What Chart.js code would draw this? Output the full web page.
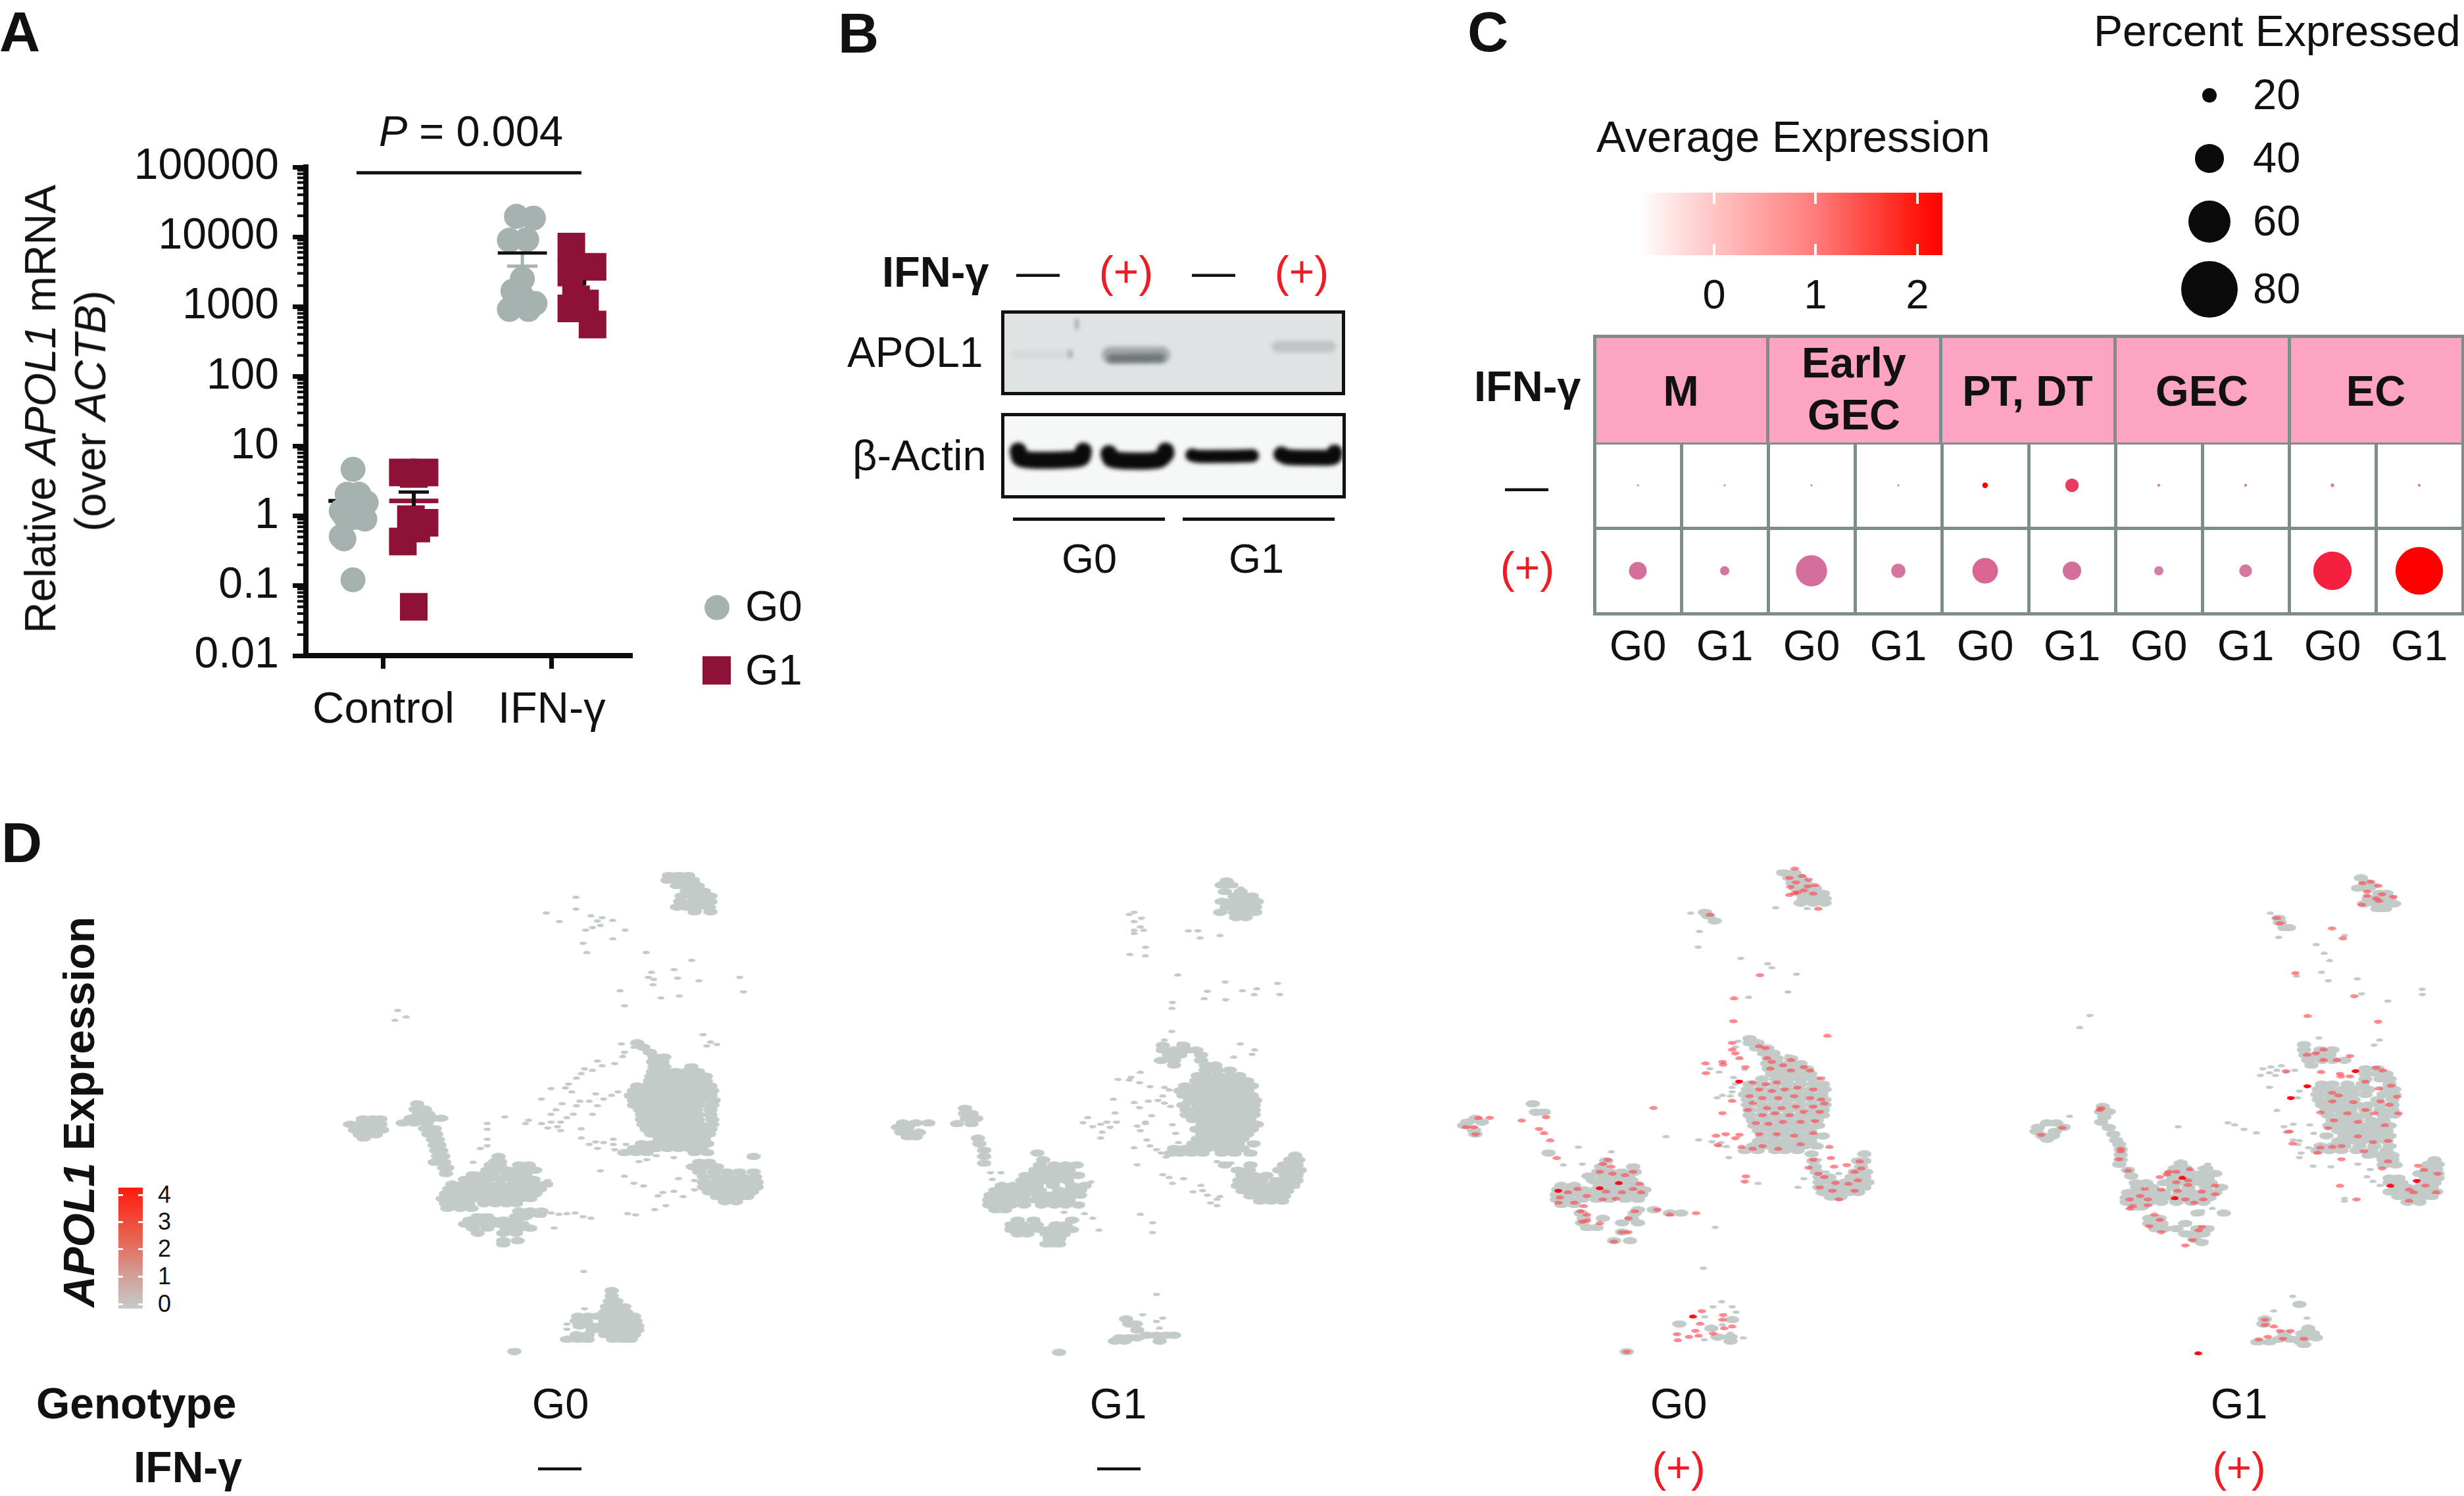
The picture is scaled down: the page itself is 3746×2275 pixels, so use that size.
<!DOCTYPE html>
<html>
<head>
<meta charset="utf-8">
<style>
html, body { margin: 0; padding: 0; background: #fff; }
#page { position: relative; width: 3746px; height: 2275px; overflow: hidden; background: #fff; font-family: "Liberation Sans", Arial, sans-serif; color: #111; }
#page canvas, .box { position: absolute; }
.t { position: absolute; white-space: nowrap; line-height: 1; }
</style>
<script src="https://cdn.jsdelivr.net/npm/chart.js@4"></script>
</head>
<body>
<div id="page"></div>
<script>
// Panel A
const qpcrTicks = [0.01, 0.1, 1, 10, 100, 1000, 10000, 100000];
const minorSteps = [2, 3, 4, 5, 6, 7, 8, 9];
const groupTicks = [1, 2];
const groupNames = ['Control', 'IFN-γ'];
const g0Ctl = [[.819,4.67],[.784,2.05],[.854,2.05],[.897,1.56],[.749,1.18],[.819,1.32],[.889,.9],[.819,.95],[.77,1.0],[.749,.51],[.765,.47],[.819,.122]];
const g1Ctl = [[1.115,4.2],[1.244,4.2],[1.18,4.0],[1.163,.9],[1.244,.8],[1.195,.66],[1.115,.43],[1.18,.05]];
const g0Ifn = [[1.79,19600],[1.891,18550],[1.748,8930],[1.851,9130],[1.825,2497],[1.769,1676],[1.9,1112],[1.748,911],[1.862,911],[1.821,1419]];
const g1Ifn = [[2.116,7230],[2.242,3722],[2.116,3083],[2.197,1112],[2.144,1270],[2.116,942],[2.242,553]];
const meanX = [.819, 1.18, 1.825, 2.195];
const meanY = [1.65, 1.65, 5860, 2210];
const semHi = [2.1, 2.2, 5860, 2400];
const semLo = [1.3, 1.39, 3805, 2030];
const pBar = [[.84,82800],[2.176,82800]];

// Panel C
const clusters = ['M', 'Early<br>GEC', 'PT, DT', 'GEC', 'EC'];
const columnKeys = ['M G0','M G1','Early G0','Early G1','PT G0','PT G1','GEC G0','GEC G1','EC G0','EC G1'];
const genotypes = ['G0','G1','G0','G1','G0','G1','G0','G1','G0','G1'];
const treatments = ['—', '(+)'];
const pctCtl = [3,3,3,3,8,19,4,4,5,4];
const pctIfn = [25,13,44,20,36,26,13,18,54,67];
const exprCtl = [.3,.3,.3,.3,2.1,1.4,.3,.3,.3,.3];
const exprIfn = [.6,.45,.6,.45,.85,.6,.3,.4,1.7,2.1];
const legendPct = [20, 40, 60, 80];
const colorTicks = ['0', '1', '2'];

// Panel B band traces, read along the middle of each band
const actinLanes = [
  [[26,58],[30,69],[60,72],[100,71],[122,68],[125,58]],
  [[164,62],[168,70],[200,73],[240,71],[250,62],[250,58]],
  [[290,64],[300,66],[340,66],[382,65]],
  [[426,63],[435,67],[480,68],[505,67],[507,60]]
];
const actinWidths = [26, 26, 20, 24];
const apolBands = [
  [[20,67],[105,67]], [[166,68],[244,68]], [[168,73],[242,72]], [[420,55],[500,55]],
  [[115,14],[115,27]], [[105,62],[105,70]]
];
const apolWidths = [12, 26, 13, 18, 4, 5];
const apolShades = ['#d6dada', '#a4aaaa', '#6f7777', '#bfc4c4', '#8a9090', '#9aa0a0'];

// Panel D, UMAP rows: [y, x, x, ...] in crop units
const ctlG0Core = [
[98,1170,1200,1230],[112,1165,1195,1225,1245],[128,1195,1225,1260],[144,1225,1255,1280],[158,1210,1240,1270,1300],[174,1205,1245,1275,1300],[190,1195,1225,1260,1295],[204,1250,1300],
[806,210,240,265],[822,170,195,225,265],[838,185,215,245,270],[852,200,230,250],[862,212],
[762,380],[778,375,405],[792,385,415],[804,360,395,430,455],[818,335,370,410],[834,405,435],[850,415,440],[866,430,445],[882,435,450],[898,440,455],[914,445,462],[932,435,465],[948,465,475],[965,470],
[915,635],[930,625,640],[940,610,640,700,730],[955,600,630,665,695,730,750],[968,555,585,615,660,690,720],[982,530,570,600,640,680,715,745],[996,490,525,560,600,640,680,715,750,785],[1010,480,515,550,590,625,660,695,730,765],[1024,470,505,540,575,610,645,680,715,750],[1038,460,495,530,565,600,635,670,705,735],[1052,470,505,540,590,625,660,690],[1066,475,515,550],
[1074,700,735,770],[1084,730,765],[1090,570,600,690,720],[1100,545,580,615,650,690],[1112,530,565,600,635,670,710],[1124,555,600,660,700,735],[1138,570,650,690],[1160,650,695],[1170,650],
[1305,990],[1320,990],[1336,985,1005],[1352,975,1005,1030],[1368,970,1000,1035],[1380,885,915,945,975,1005,1040,1060],[1394,880,910,970,1000,1030,1065],[1408,890,925,955,985,1015,1045,1070],[1420,930,960,990,1020,1050,1070],[1434,880,915,970,1000,1030,1060],[1447,850,885,915,995,1025,1050],[1482,685],
[585,1070],[598,1090],[612,1110],[626,1125,1155],[640,1120,1150],[654,1125,1155,1240],[668,1120,1155,1190,1225,1260],[682,1115,1150,1185,1220,1255,1285],[696,1110,1145,1180,1215,1250,1285],[710,1070,1105,1140,1175,1210,1245,1280,1300],[724,1060,1095,1130,1165,1200,1235,1270,1305],[738,1050,1085,1120,1155,1190,1225,1260,1300],[752,1060,1095,1130,1165,1200,1235,1270,1310],[766,1060,1090,1125,1160,1195,1230,1265,1305],[780,1080,1115,1150,1185,1220,1255,1300],[794,1085,1120,1155,1190,1225,1260,1300],[808,1085,1120,1155,1190,1225,1260,1305],[822,1090,1125,1160,1195,1230,1265,1305],[836,1100,1135,1170,1205,1240,1275,1300],[850,1115,1150,1185,1220,1255,1295],[864,1140,1175,1210,1245,1280],[878,1085,1120,1155,1190,1225,1260,1290],[892,1060,1095,1130,1165,1200,1235,1270],[904,1030,1065,1100,1250,1290],
[932,1265,1295],[945,1245,1280,1320],[960,1265,1310,1350,1390,1435],[975,1280,1320,1360,1400,1440],[990,1280,1315,1350,1385,1420,1445],[1004,1280,1315,1350,1385,1420,1445],[1018,1295,1330,1365,1400,1430],[1032,1320,1355,1390,1415],[1046,1345,1380],[915,1435]
];
const ctlG0Stray = [[878,162],[878,196],[785,207],[826,232],[925,216],[960,221],[945,231],[955,243],[993,229],[908,257],[930,250],[1032,257],[994,283],[900,295],[912,323],[1098,322],[1241,345],[1186,372],[1115,380],[1105,394],[1122,400],[1197,397],[1264,405],[1392,394],[1120,416],[1017,434],[1403,436],[1145,454],[1202,449],[1031,477],[319,491],[346,510],[310,520],[1277,561],[1300,583],[1320,589],[1288,594],[1021,588],[1060,598],[1030,612],[1025,625],[945,638],[1000,645],[960,652],[930,665],[905,660],[895,675],[880,688],[855,705],[800,718],[845,716],[865,728],[1010,727],[990,738],[770,748],[940,733],[965,748],[890,755],[920,755],[945,768],[835,762],[880,768],[815,780],[800,793],[870,792],[930,793],[655,800],[730,810],[850,803],[720,820],[770,820],[800,815],[830,815],[790,832],[820,828],[830,840],[600,819],[600,836],[895,835],[600,865],[895,862],[940,873],[920,880],[965,875],[995,865],[995,880],[1035,880],[945,892],[1000,895],[600,884],[578,892],[1075,930],[1100,925],[1130,913],[1185,918],[555,932],[955,957],[1030,973],[1200,980],[1060,993],[1090,1001],[1150,1020],[1185,1017],[1135,1030],[1215,1032],[1250,1012],[1160,1058],[1125,1070],[1040,1082],[1065,1085],[810,1123],[902,1250],[905,1358],[850,1403],[850,1417],[1250,985],[790,985],[770,995],[800,1080],[825,1084],[850,1082],[875,1080],[900,1090],[925,1095]];

const ctlG1Core = [
[114,1165],[126,1150,1180],[145,1160,1210],[158,1190,1220,1245],[174,1150,1180,1210,1240,1260],[190,1165,1195,1225,1255],[205,1145,1190,1225,1255],[220,1195,1225],
[818,150,190,230],[830,135,165],[845,145,165,200],[858,165,190],
[775,345],[790,345,365],[805,350,380],[820,320,365],[862,385],[878,390],[897,405],[915,405],[935,405],
[905,572],[925,590],[940,580,625,660,695],[955,565,600,635,670],[970,535,570,605,640,675,700],[985,525,560,595,630,665],[1000,460,495,530,570,620,680,720],[1014,440,475,510,545,580,640,675,705],[1028,425,460,495,530,575,610,645,680,705],[1042,420,455,490,525,565,600,635,670],[1056,420,450,490,530,585,625,660,700],[1070,440,470],
[1100,510,560,680],[1114,490,525,570,630,660],[1128,490,520,550,580,610,640,680],[1140,510,540,600,630,655],[1155,610,640],[1170,600,615,640],
[1388,850],[1402,860,880],[1420,885],[1435,915,945,975,1000],[1442,830,860,885],[1452,815,845,955],[1485,640],
[592,965,1030],[606,965,1000,1040,1070],[620,985,1020,1085],[636,960,1000,1085],[650,1000,1100,1130],[664,1100,1135,1175],[680,1075,1105,1140,1175,1205],[695,1070,1100,1130,1165,1200,1230],[710,1035,1075,1110,1145,1180,1215,1245],[724,1020,1050,1090,1125,1160,1195,1230],[738,1030,1070,1105,1140,1175,1210,1245],[752,1050,1085,1120,1155,1190,1225,1255],[766,1030,1075,1110,1145,1180,1215,1250],[780,1040,1080,1115,1150,1185,1220,1250],[794,1040,1075,1110,1145,1180,1215,1250],[808,1060,1095,1130,1165,1200,1235],[822,1090,1125,1160,1195,1230,1260],[836,1070,1105,1140,1175,1210,1245],[850,1090,1125,1160,1195,1230],[864,1075,1110,1145,1180,1215],[878,1060,1095,1130,1165,1200,1250],[892,1000,1035,1070,1105,1140,1175,1215],[906,990,1020,1055,1090,1150,1190,1240],
[912,1380],[925,1365,1390],[940,1160,1240,1345,1385],[955,1200,1235,1330,1365,1395],[970,1215,1250,1290,1350,1385],[985,1205,1240,1275,1320,1360,1385],[1000,1200,1235,1270,1305,1340,1375],[1015,1215,1250,1285,1320,1355],[1030,1240,1275,1310,1345],[1045,1270,1305,1340]
];
const ctlG1Stray = [[1210,135],[875,205],[860,212],[898,222],[875,232],[895,248],[875,258],[905,258],[875,267],[1045,260],[1075,259],[1082,280],[1145,273],[911,307],[862,328],[910,332],[1012,388],[1161,408],[1325,412],[1105,435],[1215,434],[1260,428],[1252,445],[1332,444],[1095,457],[1162,459],[995,467],[994,485],[993,552],[970,577],[1020,586],[1208,588],[1253,606],[1245,618],[1188,627],[895,671],[825,691],[865,685],[860,693],[892,701],[925,712],[970,715],[985,722],[965,740],[810,749],[875,759],[950,752],[920,755],[970,760],[892,773],[990,770],[930,797],[730,803],[815,789],[910,815],[715,817],[790,815],[820,815],[745,828],[770,822],[800,830],[775,845],[770,862],[885,827],[910,820],[995,823],[895,840],[1005,848],[915,868],[1015,875],[925,885],[945,895],[875,890],[960,905],[975,917],[885,939],[1135,930],[1180,935],[700,965],[425,962],[458,962],[430,982],[965,968],[985,977],[1030,980],[995,994],[740,990],[1085,1000],[1090,1015],[1060,1018],[1105,1028],[1145,1032],[1135,1040],[1115,1050],[1135,1058],[720,1082],[655,1078],[895,1084],[745,1095],[933,1108],[765,1130],[933,1136],[945,1316],[902,1375],[945,1395],[955,1415],[965,1385]];

const ifnG0Core = [
[90,1095,1130],[105,1115,1150],[120,1125,1165],[135,1135,1175,1195],[150,1150,1190,1220],[165,1160,1195,1225],[178,1150,1190,1225],[205,850],[215,860],[230,880],
[805,130],[815,105,150],[825,95],[838,125],[850,130],[762,310],[786,320,345],[905,360],
[928,540],[945,525,625],[960,515,550,590,630],[972,485,530,570,610],[985,500,540,580,620],[1000,400,440,520,560,600,640],[1012,390,430,470,510,550,590,630,660],[1026,385,420,460,500,540,580,620,650],[1040,385,425,465,510,550,600,640],[1055,400,440],
[1070,640,690],[1080,460,630,740,775],[1095,470,530,620],[1108,465,590,640],[1122,480,510],[1135,590],[1160,565,615],
[572,990],[585,990,1015],[600,1010,1045],[615,1035,1065],[630,1050,1075,1120],[645,1045,1080,1115,1150],[660,1050,1090,1130,1170],[675,1060,1100,1140,1180],[690,1030,1075,1110,1150,1190],[705,990,1030,1070,1110,1150,1190,1220],[720,985,1025,1065,1105,1145,1185,1225],[735,975,1015,1055,1095,1135,1175,1215],[750,985,1030,1070,1110,1150,1190,1225],[765,985,1025,1065,1105,1145,1185,1225],[780,990,1030,1070,1110,1150,1190,1220],[795,990,1030,1070,1110,1150,1190,1220],[810,1000,1040,1080,1120,1160,1200],[825,1005,1045,1085,1125,1165,1205],[840,1020,1060,1100,1140,1180],[855,1030,1070,1110,1150,1190,1220],[870,1020,1060,1100,1140,1180],[885,1000,1040,1080,1120,1160,1200],[898,975,1015,1070,1100,1140],
[908,1185,1350],[928,1190,1330,1350],[945,1195,1340],[960,1200,1320,1355],[975,1210,1240,1310,1350],[990,1210,1250,1290,1330,1360],[1005,1210,1245,1280,1315,1350],[1020,1220,1260,1300,1330],[1033,1245,1275],
[1415,870],[1440,890,930],[1452,930],[1390,935],[1402,770],[1483,605]
];
const ifnG0Stray = [[805,208],[833,261],[829,306],[962,339],[1047,355],[1060,367],[1137,385],[1111,437],[987,453],[954,580],[945,597],[1110,622],[865,660],[895,670],[975,662],[940,686],[945,705],[935,715],[935,727],[888,745],[905,738],[930,740],[728,858],[830,867],[872,872],[900,875],[895,885],[918,887],[925,918],[453,888],[557,902],[406,940],[465,937],[1160,980],[1017,994],[1142,1005],[882,1121],[845,1240],[903,1338],[875,1352],[935,1352],[948,1368],[850,1382],[905,1405],[930,1430],[970,1443],[848,1448],[1072,192],[1170,195],[1205,925],[1230,960],[1270,965],[1175,885]];
const ifnG0Red = [[1132,78],[1155,100],[1115,105],[1175,110],[1135,118],[1118,131],[1172,130],[1195,127],[1130,150],[1160,142],[1115,155],[1190,151],[1205,195],[1140,148],[865,213],[1023,388],[941,456],[939,522],[1234,565],[935,585],[935,605],[945,615],[958,630],[852,645],[905,640],[907,648],[853,673],[977,655],[935,754],[905,789],[689,774],[885,855],[915,850],[945,862],[958,852],[890,882],[965,888],[1240,888],[1245,920],[978,973],[975,988],[275,811],[352,801],[175,803],[140,804],[125,830],[130,850],[100,830],[330,835],[345,848],[365,869],[385,920],
[1000,700],[1040,705],[1075,700],[1120,665],[1095,650],[1055,660],[1160,655],[1180,665],[1215,688],[1020,720],[1060,725],[1100,720],[1140,715],[1190,720],[990,740],[1030,745],[1080,745],[1130,740],[1180,745],[1215,750],[1000,760],[1045,775],[1090,775],[1135,770],[1190,770],[1225,762],[985,780],[1030,795],[1070,790],[1115,795],[1160,785],[1210,785],[1010,818],[1050,820],[1095,815],[1150,815],[1195,812],[1020,850],[1075,850],[1130,855],[1190,848],[1030,885],[1080,893],[1000,893],[1150,880],[1040,600],[1020,595],[1045,630],[1060,640],[1120,635],
[545,925],[530,937],[555,945],[520,960],[560,965],[600,970],[625,960],[420,1020],[450,1010],[480,1030],[540,1018],[590,1020],[625,1010],[645,995],[395,1035],[440,1050],[530,1040],[570,1038],[390,1050],[470,1060],[650,1020],[460,1075],[480,1085],[480,1102],[465,1105],[520,1110],[630,1075],[610,1095],[700,1070],[740,1085],[822,1080],[590,1135],[610,1135],[565,1163],
[1205,965],[1225,975],[1210,1005],[1250,1015],[1270,1040],[1320,960],[1340,950],[1330,985],[1300,995],[1260,992],[1295,940],[1255,945],[1175,948],[1190,925],[1320,1015],[1335,930],[907,1376],[905,1390],[840,1365],[762,1432],[800,1440],[830,1437],[765,1450],[875,1430],[910,1415],[935,1410],[605,1483],[820,1422],[835,1402]];
const ifnG0Peak = [[520,1008],[957,697],[812,1381],[580,993],[390,1015]];

const ifnG1Core = [
[105,1225],[118,1240],[128,1260],[135,1215,1250],[150,1285,1310],[165,1250,1285,1320],[180,1235,1275,1310,1335],[195,1280,1305],[222,950],[235,955],[250,970,985],
[818,180,210],[830,150,235],[842,145,205],[855,165,200],[865,180],
[770,365],[785,360,385],[800,370],[815,360],[831,385],[850,400],[868,410],[880,420],[895,425],[910,425],[925,425],[938,420],[955,450],[972,460],
[935,625],[950,605,640,710],[965,590,625,660,695,740],[980,600,640,680,715],[992,475,510,570,610,650,690,725],[1005,480,530,600,650,710,760],[1020,450,490,530,570,620,660,700,740],[1035,445,480,520,560,600,640,680,720],[1048,445,480,520,560,610,660,700],[1062,470,495],
[1080,680,768],[1095,520,555],[1110,520,560,640],[1125,540,570,610,680,715],[1140,640,670,700],[1155,670],[1165,695],
[590,1035],[605,1035,1090,1130],[620,1040,1080,1120],[635,1050,1095,1130,1170],[650,1060],[660,1240,1280],[675,1240,1280,1310],[690,1240,1290,1320],[705,1095,1130,1180,1230,1320],[720,1085,1125,1165,1205,1250,1310,1335],[735,1080,1120,1160,1195,1240,1300,1335],[750,1085,1125,1160,1200,1280,1330],[765,1095,1130,1170,1210,1250,1290,1330],[780,1110,1150,1190,1240,1290,1330],[795,1115,1160,1200,1240,1300,1335],[810,1130,1170,1210,1260,1300],[825,1120,1160,1200,1240,1280,1320],[840,1150,1190,1230,1270,1310],[855,1110,1170,1210,1250,1290,1320],[870,1150,1190,1230,1270,1310],[885,1090,1130,1170,1220,1270,1320],[898,1080,1120,1160,1210,1260,1310],[912,1250,1290,1330],[925,1300,1330],[940,1300,1340],
[925,1470],[938,1450,1480],[952,1445,1475],[965,1420,1450,1480],[978,1320,1350,1440,1480],[992,1320,1360,1430,1470],[1005,1340,1380,1420,1460],[1018,1320,1360,1400,1440,1475],[1032,1350,1390,1430,1460],[1048,1380,1420],
[1345,1020],[1388,905],[1402,900],[1415,1050],[1430,970,1030,1065],[1442,1040,1075],[1447,950,990,1015],[1455,880,920,1025],[1462,1035]
];
const ifnG1Stray = [[924,208],[951,278],[1076,299],[1102,325],[1121,346],[1094,380],[1010,391],[1116,404],[1213,399],[1429,429],[1430,444],[1227,442],[1314,463],[322,505],[289,541],[1287,577],[1268,591],[1085,571],[1170,273],[890,679],[898,660],[925,655],[945,665],[960,652],[920,672],[940,680],[975,670],[1005,665],[920,714],[1020,725],[1015,745],[945,782],[255,799],[616,829],[782,818],[805,824],[835,836],[877,847],[968,828],[1000,822],[975,845],[990,843],[1055,824],[1068,848],[1000,868],[1020,870],[1015,880],[1050,890],[1025,905],[1020,918],[1065,943],[1125,945],[1215,937],[1255,953],[1245,975],[1265,988],[1288,1000],[1170,1038],[1170,1045],[673,1081],[695,1073],[730,1067],[767,1085],[998,1322],[935,1365],[1045,1385],[690,950],[715,938],[760,1008]];
const ifnG1Red = [[1258,116],[1230,121],[1283,128],[1245,145],[1245,157],[1295,153],[1333,160],[1275,165],[1285,172],[1228,183],[945,222],[955,237],[1128,252],[1165,281],[1007,382],[1203,449],[1047,507],[1282,523],[1075,615],[1100,605],[1045,620],[1100,635],[1145,635],[1188,623],[1092,670],[975,667],[1155,675],[1158,683],[1188,682],[1275,657],[1298,665],[1325,710],[1285,718],[1240,698],[1345,741],[1130,730],[1150,738],[1130,755],[1090,787],[1200,757],[1240,780],[1270,790],[1290,755],[1320,765],[1350,790],[1305,825],[1135,810],[1115,833],[1180,790],[1215,815],[1215,857],[1265,873],[1315,870],[1160,885],[1090,890],[1080,905],[1130,888],[1235,900],[1160,923],[1315,930],[1295,950],[1415,942],[1435,955],[1480,965],[1385,1012],[1400,1020],[1440,1000],[1385,1045],[1475,1020],[1155,1001],[1210,1040],[997,878],[985,843],
[360,775],[355,780],[230,832],[160,852],[425,893],[425,900],[420,923],[450,957],[555,975],[585,960],[610,960],[655,953],[580,968],[650,985],[610,990],[650,998],[740,1000],[505,1010],[560,1012],[615,1015],[695,1018],[740,1025],[490,1030],[515,1040],[640,1040],[700,1040],[455,1040],[465,1060],[515,1057],[670,1050],[455,1067],[537,1085],[555,1100],[520,1118],[560,1135],[695,1120],[685,1130],[665,1158],[640,1174],[905,1390],[905,1405],[935,1410],[955,1423],[990,1423],[915,1440],[885,1447],[965,1445],[1035,1445]];
const ifnG1Peak = [[1207,667],[1046,711],[991,745],[630,978],[1411,986],[683,1488],[605,1037],[1323,1001]];

const exprTicks = ['4', '3', '2', '1', '0'];

const page = document.getElementById('page');
Chart.defaults.font.family = '"Liberation Sans", Arial, sans-serif';
Chart.defaults.color = '#111';
Chart.defaults.animation = false;
Chart.defaults.responsive = false;
Chart.defaults.layout.autoPadding = false;
Chart.defaults.plugins.legend.display = false;
Chart.defaults.plugins.tooltip.enabled = false;

function addCanvas(left, top, w, h) {
    const c = document.createElement('canvas');
    c.width = w; c.height = h;
    c.style.left = left + 'px';
    c.style.top = top + 'px';
    page.appendChild(c);
    return c;
}

// baseline positioned text, line-height 1 puts the baseline at .8465em
function text(html, x, base, size, opts) {
    opts = opts || {};
    const el = document.createElement('div');
    el.className = 't';
    el.innerHTML = html;
    el.style.fontSize = size + 'px';
    el.style.left = x + 'px';
    el.style.top = (base - size * 0.8465) + 'px';
    if (opts.bold) el.style.fontWeight = 'bold';
    if (opts.color) el.style.color = opts.color;
    if (opts.anchor === 'middle') el.style.transform = 'translateX(-50%)';
    if (opts.anchor === 'end') el.style.transform = 'translateX(-100%)';
    page.appendChild(el);
    return el;
}

function vtext(html, x, cy, size, bold) {
    const el = document.createElement('div');
    el.className = 't';
    el.innerHTML = html;
    el.style.fontSize = size + 'px';
    el.style.left = x + 'px';
    el.style.top = cy + 'px';
    el.style.transformOrigin = '0 0';
    el.style.transform = 'rotate(-90deg) translate(-50%, -0.8465em)';
    if (bold) el.style.fontWeight = 'bold';
    page.appendChild(el);
}

function box(left, top, w, h, css) {
    const el = document.createElement('div');
    el.className = 'box';
    el.style.cssText = 'left:' + left + 'px;top:' + top + 'px;width:' + w + 'px;height:' + h + 'px;' + (css || '');
    page.appendChild(el);
    return el;
}

function pts(list) { return list.map(p => ({ x: p[0], y: p[1] })); }
function rows(list) { return list.flatMap(r => r.slice(1).map(x => ({ x: x, y: r[0] }))); }

/* ---------- A ---------- */
const minorTickPlugin = {
    id: 'minorTicks',
    afterDraw(chart) {
        const s = chart.scales.y, ctx = chart.ctx;
        ctx.save();
        ctx.strokeStyle = '#0b0b0b';
        ctx.lineWidth = 4;
        qpcrTicks.slice(0, -1).forEach(dec => {
            minorSteps.forEach(m => {
                const y = s.getPixelForValue(dec * m);
                ctx.beginPath();
                ctx.moveTo(s.right - 13, y);
                ctx.lineTo(s.right, y);
                ctx.stroke();
            });
        });
        ctx.restore();
    }
};

const G0_GREY = '#a6b2b0', G1_RED = '#8e1238';
const HALF = 0.146;
function hline(x, y, half) { return [{ x: x - half, y: y }, { x: x + half, y: y }]; }
function lineSet(data, color, width, order) {
    return { type: 'scatter', data: data, showLine: true, borderColor: color, borderWidth: width, pointRadius: 0, order: order, borderCapStyle: 'butt' };
}

const aSets = [
    lineSet(pts(pBar), '#111', 5, 0),
    lineSet(hline(meanX[0], meanY[0], HALF), '#111', 6, 9),
    { type: 'scatter', data: pts(g0Ctl), pointStyle: 'circle', pointRadius: 19, backgroundColor: G0_GREY, borderWidth: 0, order: 8 },
    { type: 'scatter', data: pts(g0Ifn), pointStyle: 'circle', pointRadius: 19, backgroundColor: G0_GREY, borderWidth: 0, order: 8 },
    { type: 'scatter', data: pts(g1Ctl), pointStyle: 'rect', pointRadius: 29.7, backgroundColor: G1_RED, borderWidth: 0, order: 7 },
    { type: 'scatter', data: pts(g1Ifn), pointStyle: 'rect', pointRadius: 29.7, backgroundColor: G1_RED, borderWidth: 0, order: 7 },
    lineSet(hline(meanX[1], meanY[1], HALF), G1_RED, 7, 6),
    lineSet([{ x: meanX[1], y: semLo[1] }, { x: meanX[1], y: semHi[1] }], '#111', 6, 5),
    lineSet(hline(meanX[1], semHi[1], 0.09), '#111', 5, 5),
    lineSet(hline(meanX[2], meanY[2], HALF), '#111', 5, 4),
    lineSet([{ x: meanX[2], y: semLo[2] }, { x: meanX[2], y: semHi[2] }], G0_GREY, 5, 4),
    lineSet(hline(meanX[2], semLo[2], 0.09), G0_GREY, 5, 4),
    lineSet([{ x: meanX[3], y: semLo[3] }, { x: meanX[3], y: semHi[3] }], '#111', 5, 4)
];

new Chart(addCanvas(0, 150, 1000, 1000), {
    type: 'scatter',
    data: { datasets: aSets },
    options: {
        clip: false,
        layout: { padding: { top: 104, right: 39, left: 0, bottom: 0 } },
        scales: {
            x: {
                type: 'linear', min: 0.539, max: 2.477,
                afterBuildTicks: s => { s.ticks = groupTicks.map(v => ({ value: v })); },
                afterFit: s => { s.height = 153; },
                grid: { drawOnChartArea: false, tickLength: 20, tickWidth: 7, tickColor: '#0b0b0b' },
                border: { color: '#0b0b0b', width: 8 },
                ticks: { padding: 23, font: { size: 67 }, color: '#111', maxRotation: 0, autoSkip: false,
                    callback: v => groupNames[groupTicks.indexOf(v)] }
            },
            y: {
                type: 'logarithmic', min: 0.01, max: 100000,
                afterBuildTicks: s => { s.ticks = qpcrTicks.map(v => ({ value: v })); },
                afterFit: s => { s.width = 465; },
                grid: { drawOnChartArea: false, tickLength: 20, tickWidth: 7, tickColor: '#0b0b0b' },
                border: { color: '#0b0b0b', width: 8 },
                ticks: { padding: 21, font: { size: 66 }, color: '#111', autoSkip: false,
                    callback: v => String(v) }
            }
        }
    },
    plugins: [minorTickPlugin]
});

text('A', -1, 78, 86, { bold: true });
text('<i>P</i> = 0.004', 716, 222, 65, { anchor: 'middle' });
vtext('Relative <i>APOL1</i> mRNA', 84, 622, 66);
vtext('(over <i>ACTB</i>)', 160, 625, 66);
box(1071, 905, 38, 38, 'background:' + G0_GREY + ';border-radius:50%');
box(1068, 998, 43, 43, 'background:' + G1_RED);
text('G0', 1133, 944, 65);
text('G1', 1133, 1041, 65);

/* ---------- B ---------- */
const blurPlugin = {
    id: 'blotBlur',
    beforeDatasetsDraw(chart) { chart.ctx.save(); chart.ctx.filter = 'blur(3px)'; },
    afterDatasetsDraw(chart) { chart.ctx.restore(); }
};

function blot(left, top, w, h, bg, datasets) {
    const c = addCanvas(left + 5, top + 5, w - 10, h - 10);
    c.style.background = bg;
    new Chart(c, {
        type: 'scatter',
        data: { datasets: datasets },
        options: {
            layout: { padding: 0 },
            scales: {
                x: { type: 'linear', display: false, min: 5, max: w - 5 },
                y: { type: 'linear', display: false, min: 5, max: h - 5, reverse: true }
            }
        },
        plugins: [blurPlugin]
    });
    box(left, top, w, h, 'box-sizing:border-box;border:5px solid #111');
}
function bandSet(trace, width, color, cap, tension) {
    return { data: pts(trace), showLine: true, borderColor: color, borderWidth: width, pointRadius: 0,
        borderCapStyle: cap, borderJoinStyle: 'round', tension: tension };
}
blot(1522, 472, 523, 129, '#e0e3e3', apolBands.map((b, i) => bandSet(b, apolWidths[i], apolShades[i], 'round', 0)).reverse());
blot(1522, 628, 524, 130, '#f6f7f7', actinLanes.map((b, i) => bandSet(b, actinWidths[i], '#0a0a0a', 'round', 0.35)));

text('IFN-γ', 1341, 436, 65, { bold: true });
text('—', 1578, 436, 66, { anchor: 'middle' });
text('—', 1845, 436, 66, { anchor: 'middle' });
text('(+)', 1712, 436, 66, { anchor: 'middle', color: '#ee1c25' });
text('(+)', 1979, 436, 66, { anchor: 'middle', color: '#ee1c25' });
text('B', 1274, 80, 86, { bold: true });
text('APOL1', 1288, 558, 64);
text('β-Actin', 1296, 715, 65);
box(1540, 787, 231, 5, 'background:#111');
box(1798, 787, 231, 5, 'background:#111');
text('G0', 1656, 871, 63, { anchor: 'middle' });
text('G1', 1910, 871, 63, { anchor: 'middle' });

/* ---------- C ---------- */
const exprStops = [[0, [216,139,176]], [.6, [212,110,155]], [1, [220,95,140]], [1.7, [245,32,63]], [2.1, [255,0,0]]];
function exprColor(v) {
    for (let i = 1; i < exprStops.length; i++) {
        const a = exprStops[i - 1], b = exprStops[i];
        if (v <= b[0]) {
            const f = (v - a[0]) / (b[0] - a[0]);
            return 'rgb(' + a[1].map((c, k) => Math.round(c + (b[1][k] - c) * f)).join(',') + ')';
        }
    }
    return 'rgb(255,0,0)';
}
const pctToRadius = p => p * 0.54;
const CELL_LINE = '#7f8c8c';

new Chart(addCanvas(2400, 650, 1346, 390), {
    type: 'bubble',
    data: {
        datasets: [
            { data: pctCtl.map((p, i) => ({ x: columnKeys[i], y: treatments[0], r: pctToRadius(p) })), backgroundColor: exprCtl.map(exprColor), borderWidth: 0 },
            { data: pctIfn.map((p, i) => ({ x: columnKeys[i], y: treatments[1], r: pctToRadius(p) })), backgroundColor: exprIfn.map(exprColor), borderWidth: 0 }
        ]
    },
    options: {
        clip: false,
        layout: { padding: { top: 23, right: 2, left: 0, bottom: 0 } },
        scales: {
            x: {
                type: 'category', labels: columnKeys, offset: true,
                afterFit: s => { s.height = 107; },
                grid: { offset: true, color: CELL_LINE, lineWidth: 5, drawTicks: false },
                border: { color: CELL_LINE, width: 5 },
                ticks: { padding: 14, font: { size: 65 }, color: '#111', maxRotation: 0, autoSkip: false,
                    callback: (v, i) => genotypes[i] }
            },
            y: {
                type: 'category', labels: treatments, offset: true,
                afterFit: s => { s.width = 24; },
                grid: { offset: true, color: CELL_LINE, lineWidth: 5, drawTicks: false },
                border: { color: CELL_LINE, width: 5 },
                ticks: { display: false }
            }
        }
    }
});

// pink header strip
const headerEdges = [2424, 2687, 2950, 3215, 3480, 3744];
clusters.forEach((name, i) => {
    const x0 = headerEdges[i], x1 = headerEdges[i + 1];
    box(x0 - 2, 509, x1 - x0, 164, 'background:#fda4c3;box-sizing:border-box;border:5px solid ' + CELL_LINE + ';border-right-width:0;border-bottom-width:0;');
    const cx = (x0 + x1) / 2;
    if (name.indexOf('<br>') >= 0) {
        const parts = name.split('<br>');
        text(parts[0], cx, 574, 65, { bold: true, anchor: 'middle' });
        text(parts[1], cx, 653, 65, { bold: true, anchor: 'middle' });
    } else {
        text(name, cx, 617, 65, { bold: true, anchor: 'middle' });
    }
});
box(3742, 509, 4, 164, 'background:' + CELL_LINE);

text('C', 2231, 78, 86, { bold: true });
text('IFN-γ', 2241, 610, 65, { bold: true });
text('—', 2321, 762, 66, { anchor: 'middle' });
text('(+)', 2322, 886, 66, { anchor: 'middle', color: '#ee1c25' });

text('Average Expression', 2427, 231, 67);
box(2490, 293, 463, 95, 'background:linear-gradient(90deg,#fff 0%,#ffc4c4 25%,#ff7a7a 59%,#ff1c12 90%,#f00 100%)');
[2606, 2760, 2915].forEach((x, i) => {
    box(x - 2, 293, 4, 17, 'background:#fff');
    box(x - 2, 371, 4, 17, 'background:#fff');
    text(colorTicks[i], x, 469, 63, { anchor: 'middle' });
});
text('Percent Expressed', 3183, 70, 66);
const legendY = [145, 241, 337, 440];
const legendBase = [166, 262, 358, 461];
legendPct.forEach((p, i) => {
    const r = pctToRadius(p);
    box(3359 - r, legendY[i] - r, 2 * r, 2 * r, 'background:#0b0b0b;border-radius:50%');
    text(String(p), 3425, legendBase[i], 65);
});

/* ---------- D ---------- */
function ellipseSprite(w, h, color) {
    const c = document.createElement('canvas');
    c.width = w; c.height = h;
    const g = c.getContext('2d');
    g.fillStyle = color;
    g.beginPath();
    g.ellipse(w / 2, h / 2, w / 2, h / 2, 0, 0, Math.PI * 2);
    g.fill();
    return c;
}
const CELL_GREY = '#c3cbc9';
const coreSprite = ellipseSprite(22, 11, CELL_GREY);
const straySprite = ellipseSprite(11, 5, CELL_GREY);
const redSprite = ellipseSprite(13, 6, 'rgba(255,70,80,0.65)');
const peakSprite = ellipseSprite(12, 6, '#ff0a14');

function umap(left, top, w, h, core, stray, red, peak) {
    const sets = [];
    if (peak) sets.push({ data: pts(peak), pointStyle: peakSprite });
    if (red) sets.push({ data: pts(red), pointStyle: redSprite });
    sets.push({ data: pts(stray), pointStyle: straySprite });
    sets.push({ data: rows(core), pointStyle: coreSprite });
    new Chart(addCanvas(left, top, w, h), {
        type: 'scatter',
        data: { datasets: sets },
        options: {
            layout: { padding: 0 },
            scales: {
                x: { type: 'linear', display: false, min: 0, max: 1568 },
                y: { type: 'linear', display: false, min: 0, max: 1568, reverse: true }
            }
        }
    });
}
umap(450, 1280, 760, 820, ctlG0Core, ctlG0Stray);
umap(1300, 1280, 760, 820, ctlG1Core, ctlG1Stray);
umap(2180, 1280, 760, 820, ifnG0Core, ifnG0Stray, ifnG0Red, ifnG0Peak);
umap(3030, 1280, 716, 820, ifnG1Core, ifnG1Stray, ifnG1Red, ifnG1Peak);

text('D', 2, 1311, 86, { bold: true });
vtext('<i>APOL1</i> Expression', 143, 1691, 66, true);
box(180, 1806, 37, 184, 'background:linear-gradient(180deg,#ff1a0a 0%,#e8604e 40%,#d49a92 70%,#c3cbc9 100%)');
[1818, 1859, 1900, 1942, 1984].forEach((y, i) => {
    box(180, y - 2, 7, 3, 'background:#fff');
    box(210, y - 2, 7, 3, 'background:#fff');
    text(exprTicks[i], 240, y + 11, 36);
});
text('Genotype', 55, 2157, 66, { bold: true });
text('IFN-γ', 203, 2254, 66, { bold: true });
text('G0', 852, 2157, 65, { anchor: 'middle' });
text('G1', 1700, 2157, 65, { anchor: 'middle' });
text('G0', 2552, 2157, 65, { anchor: 'middle' });
text('G1', 3404, 2157, 65, { anchor: 'middle' });
text('—', 851, 2251, 66, { anchor: 'middle' });
text('—', 1701, 2251, 66, { anchor: 'middle' });
text('(+)', 2552, 2254, 65, { anchor: 'middle', color: '#ee1c25' });
text('(+)', 3404, 2254, 65, { anchor: 'middle', color: '#ee1c25' });
</script>
</body>
</html>
